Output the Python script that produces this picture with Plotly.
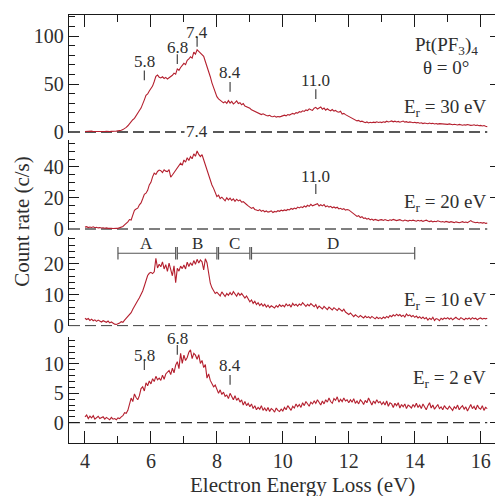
import numpy as np
import plotly.graph_objects as go

# ---------------- data ----------------
X_START = 4.0      # eV, first channel
X_STEP = 0.05      # eV, channel width

counts_30eV = [
    0.6, 0.8, 0.5, 0.7, 0.9, 0.6, 0.5, 0.7, 0.8, 0.6, 0.5, 0.7, 0.6, 0.8, 0.5, 0.6, 0.7, 0.5, 0.8, 0.9,
    1.0, 1.3, 1.8, 2.5, 3.4, 4.8, 6.5, 8.9, 10.5, 12.8, 14.2, 16.5, 19.8, 22.4, 24.9, 28.6, 33.5, 38.2, 39.6, 42.8,
    45.1, 47.8, 52.6, 57.9, 59.4, 57.1, 56.3, 57.5, 55.8, 56.9, 55.2, 56.4, 57.6, 59.1, 61.3, 60.2, 65.8, 64.3, 67.2, 69.8,
    71.5, 70.2, 74.6, 76.1, 78.4, 77.0, 83.2, 81.1, 85.6, 83.9, 82.4, 80.1, 78.8, 73.5, 68.9, 63.4, 57.6, 51.2, 46.3, 41.1,
    36.8, 34.5, 32.9, 31.2, 30.4, 31.6, 29.8, 32.7, 30.1, 31.9, 29.2, 30.6, 32.4, 29.7, 30.5, 28.4, 29.6, 27.1, 26.5, 25.2,
    24.7, 23.1, 22.4, 21.5, 20.8, 19.6, 19.4, 18.2, 18.9, 17.5, 17.1, 16.8, 17.4, 16.2, 15.9, 16.6, 15.5, 16.1, 15.8, 16.3,
    16.9, 17.5, 16.8, 18.2, 17.6, 18.9, 19.4, 18.6, 20.1, 19.7, 21.2, 20.6, 22.1, 21.4, 23.0, 22.3, 24.1, 23.2, 22.6, 24.8,
    25.7, 23.9, 24.6, 26.1, 23.8, 24.9, 22.7, 24.2, 23.0, 22.1, 23.4, 21.8, 22.5, 21.0, 20.6, 21.7, 18.8, 19.4, 18.1, 17.2,
    16.1, 15.2, 14.3, 13.1, 12.5, 11.6, 12.1, 10.8, 11.3, 10.2, 9.7, 10.5, 9.4, 10.1, 9.6, 10.3, 9.8, 10.6, 9.9, 10.4,
    9.8, 10.7, 10.1, 11.2, 10.4, 10.9, 11.5, 10.6, 11.3, 10.5, 11.0, 10.2, 10.8, 11.4, 10.3, 10.8, 9.9, 10.5, 10.1, 9.7,
    10.2, 9.5, 9.9, 9.2, 9.6, 8.8, 9.3, 9.0, 8.6, 9.4, 8.7, 9.1, 8.4, 8.9, 8.2, 8.7, 8.5, 8.1, 8.6, 8.3,
    8.0, 8.4, 7.8, 7.5, 8.1, 7.7, 7.3, 7.9, 7.4, 7.0, 7.6, 7.2, 7.8, 7.1, 6.9, 7.0, 7.5, 6.8, 7.2, 6.6,
    6.9, 6.3, 6.7, 5.9, 5.6,
]

counts_20eV = [
    1.2, 1.5, 0.9, 1.3, 1.0, 1.4, 0.8, 1.1, 0.7, 0.9, 0.6, 0.8, 0.5, 0.7, 0.4, 0.6, 0.5, 0.3, 0.6, 0.5,
    0.4, 0.7, 1.0, 1.6, 2.6, 3.5, 4.6, 6.1, 5.8, 8.9, 12.1, 12.9, 13.4, 15.6, 16.8, 19.5, 22.4, 23.1, 24.9, 28.4,
    30.1, 33.6, 36.0, 35.2, 37.1, 38.0, 37.6, 36.4, 38.2, 37.3, 37.0, 38.3, 33.5, 34.8, 36.5, 38.0, 39.1, 41.5, 42.4, 41.1,
    44.5, 43.1, 45.9, 44.2, 46.7, 45.3, 48.4, 46.9, 50.3, 48.1, 46.7, 47.9, 44.5, 41.2, 37.6, 33.8, 30.9, 28.4, 26.2, 23.5,
    20.9, 21.8, 19.6, 20.5, 19.4, 18.2, 20.1, 18.8, 19.9, 18.4, 19.4, 17.9, 19.2, 18.1, 18.7, 17.3, 17.6, 16.4, 15.8, 14.9,
    14.1, 13.3, 13.9, 12.6, 12.2, 11.8, 12.5, 11.4, 12.0, 11.1, 11.6, 10.9, 11.2, 11.7, 10.6, 11.3, 11.0, 11.8, 11.4, 12.1,
    11.7, 12.3, 11.9, 12.6, 12.3, 13.2, 12.7, 13.5, 13.0, 14.1, 13.6, 14.3, 13.8, 14.8, 14.2, 15.3, 14.6, 15.9, 14.9, 15.4,
    15.5, 16.3, 14.8, 15.6, 14.9, 15.7, 14.3, 14.9, 14.1, 14.6, 13.7, 14.2, 13.5, 14.0, 12.9, 13.3, 12.6, 13.1, 12.2, 12.5,
    12.3, 11.4, 10.6, 9.8, 9.2, 8.1, 8.6, 7.4, 7.9, 6.8, 7.1, 6.3, 6.8, 5.9, 6.4, 5.6, 6.2, 5.8, 5.4, 5.9,
    6.0, 5.5, 6.1, 5.7, 5.3, 5.9, 5.6, 6.2, 5.8, 5.4, 5.7, 6.0, 5.5, 5.2, 5.8, 5.4, 5.1, 5.6, 5.3, 5.7,
    5.4, 5.0, 5.6, 5.2, 5.5, 4.9, 5.3, 5.7, 5.1, 4.8, 5.2, 4.6, 5.0, 4.7, 5.3, 4.9, 4.5, 4.8, 4.4, 4.9,
    4.6, 4.3, 4.7, 4.5, 4.1, 4.6, 4.3, 4.0, 4.4, 4.7, 4.2, 4.5, 4.1, 4.6, 5.4, 4.7, 4.4, 4.0, 4.3, 3.9,
    4.2, 3.8, 4.1, 3.6, 3.8,
]

counts_10eV = [
    2.4, 2.0, 2.3, 1.7, 2.1, 1.6, 1.9, 1.4, 1.8, 1.5, 1.2, 1.6, 1.3, 1.1, 1.5, 0.9, 1.2, 0.8, 0.5, 0.4,
    0.6, 0.9, 1.3, 1.1, 1.8, 2.4, 2.9, 3.6, 4.2, 5.3, 6.1, 7.2, 8.1, 9.0, 9.9, 11.2, 12.8, 14.9, 16.2, 16.9,
    17.2, 16.8, 17.4, 21.7, 18.6, 19.8, 19.0, 20.6, 18.3, 19.7, 17.5, 20.2, 18.4, 16.1, 19.3, 13.9, 18.5, 17.6, 19.2, 18.4,
    19.6, 18.3, 20.5, 19.1, 20.3, 19.4, 21.0, 19.8, 21.4, 20.2, 21.2, 20.6, 18.0, 21.6, 20.3, 16.4, 13.7, 12.2, 11.4, 10.4,
    10.8, 10.2, 9.6, 10.9, 10.1, 9.4, 10.4, 9.8, 10.7, 9.9, 11.0, 10.3, 9.5, 10.6, 9.8, 10.4, 9.4, 8.9, 9.6, 8.5,
    7.7, 8.3, 7.2, 7.9, 6.8, 7.4, 6.5, 7.1, 6.3, 6.9, 6.0, 6.6, 5.8, 6.4, 6.1, 5.7, 6.5, 6.0, 6.8, 6.2,
    6.6, 6.1, 7.0, 6.4, 6.8, 6.0, 7.2, 6.5, 6.9, 6.3, 7.0, 6.6, 7.4, 6.7, 6.2, 6.9, 6.4, 7.1, 6.5, 6.1,
    6.8, 5.6, 6.3, 5.9, 5.4, 6.2, 5.7, 5.2, 6.0, 5.5, 5.1, 5.8, 5.3, 4.9, 5.6, 5.0, 4.7, 5.3, 4.4, 4.0,
    3.6, 4.1, 3.3, 2.9, 3.5, 3.0, 2.7, 3.3, 2.8, 2.5, 3.1, 2.6, 2.9, 2.4, 3.0, 2.5, 2.2, 2.8, 2.3, 2.6,
    2.2, 2.8, 2.4, 3.0, 2.6, 3.3, 2.9, 3.5, 3.1, 3.7, 3.2, 3.6, 3.0, 3.4, 2.8, 3.8, 3.2, 3.5, 2.9, 3.3,
    2.7, 3.1, 2.5, 2.9, 2.3, 2.8, 2.2, 2.6, 1.8, 2.4, 2.0, 2.7, 1.7, 2.3, 2.1, 1.6, 2.4, 2.0, 2.5, 2.2,
    2.6, 2.1, 2.5, 1.9, 2.3, 2.7, 2.2, 2.0, 2.6, 2.3, 1.9, 2.4, 2.1, 2.5, 2.0, 2.6, 2.2, 2.4, 1.9, 2.3,
    2.5, 2.1, 2.4, 2.2, 2.4,
]

counts_2eV = [
    1.0, 1.3, 0.7, 1.1, 0.8, 1.2, 0.6, 0.9, 1.1, 0.7, 0.8, 1.0, 0.6, 0.9, 0.7, 0.5, 0.9, 0.6, 0.7, 0.5,
    0.8, 0.7, 1.0, 1.2, 1.7, 1.6, 2.1, 3.3, 4.2, 3.6, 4.9, 4.3, 3.9, 4.6, 5.8, 6.1, 5.4, 6.8, 6.3, 7.1,
    6.6, 7.5, 7.0, 7.9, 7.3, 7.6, 7.2, 8.1, 7.4, 8.3, 8.6, 8.9, 8.2, 9.3, 8.5, 9.8, 10.4, 9.2, 11.8, 10.1,
    11.5, 10.6, 11.1, 12.0, 12.4, 10.9, 11.8, 11.5, 10.8, 11.6, 10.1, 10.6, 9.4, 9.9, 7.6, 8.3, 7.2, 6.5, 6.1, 6.4,
    5.5, 5.0, 5.6, 4.8, 5.2, 4.5, 4.7, 4.1, 5.0, 4.3, 3.9, 4.6, 3.8, 4.2, 3.5, 3.9, 3.0, 3.6, 2.9, 3.3,
    2.7, 3.2, 2.4, 2.9, 2.2, 2.6, 2.3, 2.9, 2.1, 2.5, 2.0, 2.6, 1.9, 2.4, 2.2, 1.8, 2.5, 2.1, 1.9, 2.3,
    2.0, 2.6, 2.2, 2.9, 2.4, 2.1, 2.8, 2.5, 3.2, 2.7, 3.1, 2.6, 3.4, 2.9, 3.6, 3.1, 2.8, 3.5, 3.2, 3.7,
    3.3, 3.9, 3.4, 3.0, 3.7, 3.2, 3.9, 3.5, 4.2, 3.6, 3.3, 4.1, 3.8, 4.4, 3.5, 4.0, 3.6, 4.2, 3.7, 3.9,
    3.4, 3.9, 3.5, 4.1, 3.3, 3.7, 3.2, 3.9, 3.6, 3.1, 3.8, 3.4, 4.2, 3.5, 3.0, 3.7, 3.3, 3.9, 3.4, 3.6,
    3.1, 3.5, 3.0, 3.7, 2.8, 3.4, 3.2, 2.6, 3.3, 2.9, 3.4, 2.5, 3.1, 2.7, 3.2, 2.4, 3.0, 2.8, 2.5, 3.1,
    2.7, 3.3, 2.6, 3.0, 2.4, 3.2, 2.8, 2.2, 2.9, 3.4, 2.5, 3.0, 2.3, 2.8, 3.1, 2.4, 2.7, 2.2, 2.9, 2.5,
    2.3, 2.8, 2.5, 2.1, 2.7, 2.4, 3.0, 2.2, 2.6, 2.9, 2.3, 2.7, 2.0, 2.5, 3.1, 2.4, 2.8, 2.2, 3.0, 2.5,
    2.3, 2.9, 2.1, 2.6, 2.4,
]

# peak markers (energy, tick level, label level)
peaks_30eV = ["5.8", "6.8", "7.4", "8.4", "11.0"]
peak_tick_30eV = [59.0, 76.0, 94.0, 47.0, 39.5]
peak_label_30eV = [73.0, 88.5, 104.0, 62.5, 54.0]

peaks_20eV = ["7.4", "11.0"]
peak_tick_20eV = [57.6, 25.8]
peak_label_20eV = [63.0, 33.7]

peaks_2eV = ["5.8", "6.8", "8.4"]
peak_tick_2eV = [9.8, 12.4, 7.3]
peak_label_2eV = [11.5, 14.4, 9.8]

# regions in the 10 eV panel
region_names = ["A", "B", "C", "D"]
region_start = [5.0, 6.8, 8.05, 9.05]
region_end = [6.75, 8.0, 9.0, 14.0]
region_level = 23.35
region_label_level = 26.4

# ---------------- styling ----------------
FONT = "Liberation Serif"
TXT = "#2e2e2e"
AX = "#1a1a1a"
RED = "#b41f2e"
X_RANGE = [3.515, 16.435]

panels = [
    dict(label="E<sub>r</sub> = 30 eV", lab_y=25.0, y=counts_30eV, yrange=[-1.04, 121.9],
         domain=[0.7243, 1.0], major=50, minor=list(range(10, 121, 10)), zc="#222222"),
    dict(label="E<sub>r</sub> = 20 eV", lab_y=17.0, y=counts_20eV, yrange=[-0.645, 57.4],
         domain=[0.4977, 0.708], major=20, minor=list(range(5, 56, 5)), zc="#555555"),
    dict(label="E<sub>r</sub> = 10 eV", lab_y=8.0, y=counts_10eV, yrange=[-0.26, 28.7],
         domain=[0.2722, 0.482], major=10, minor=list(range(2, 29, 2)), zc="#555555"),
    dict(label="E<sub>r</sub> = 2 eV", lab_y=7.4, y=counts_2eV, yrange=[-3.46, 14.65],
         domain=[0.0, 0.2484], major=5, minor=list(range(1, 15)), zc="#333333"),
]

xids = ["x2", "x3", "x4", "x"]
yids = ["y", "y2", "y3", "y4"]

fig = go.Figure()
layout = dict(
    width=495, height=496,
    margin=dict(l=69, r=0, t=15, b=53),
    paper_bgcolor="white", plot_bgcolor="white",
    showlegend=False,
    font=dict(family=FONT, color=TXT, size=20),
)

tick_common = dict(showgrid=False, zeroline=False, linecolor=AX, linewidth=1.3,
                   tickcolor=AX, tickwidth=1.3)

annotations = []


def dom_frac(val, rng):
    """position of a data value as a fraction of the subplot's domain"""
    return (val - rng[0]) / (rng[1] - rng[0])


for i, p in enumerate(panels):
    xid, yid = xids[i], yids[i]
    ykey = "yaxis" if yid == "y" else "yaxis" + yid[1:]
    ydata = np.array(p["y"], dtype=float)
    xdata = X_START + X_STEP * np.arange(len(ydata))

    # zero reference (dashed)
    fig.add_trace(go.Scatter(x=[X_RANGE[0], 16.2], y=[0, 0], mode="lines", xaxis=xid, yaxis=yid,
                             line=dict(color=p["zc"], width=1.3, dash="11px,5px"), hoverinfo="skip"))
    # spectrum
    fig.add_trace(go.Scatter(x=xdata, y=ydata, mode="lines", xaxis=xid, yaxis=yid,
                             line=dict(color=RED, width=1.1)))

    # y axis (left)
    layout[ykey] = dict(domain=p["domain"], range=p["yrange"], anchor=xid, showline=True,
                        ticks="inside", ticklen=10, tick0=0, dtick=p["major"],
                        tickfont=dict(family=FONT, size=20, color=TXT),
                        minor=dict(tickmode="array", tickvals=p["minor"], ticks="inside",
                                   ticklen=6, tickwidth=1.2, tickcolor=AX),
                        **tick_common)
    # right-side ticks
    rkey = "yaxis%d" % (i + 5)
    layout[rkey] = dict(overlaying=yid, side="right", anchor=xid, range=p["yrange"],
                        showline=False, ticks="inside", ticklen=5, tick0=0, dtick=p["major"],
                        showticklabels=False, showgrid=False, zeroline=False,
                        tickcolor=AX, tickwidth=1.3)
    fig.add_trace(go.Scatter(x=[None], y=[None], xaxis=xid, yaxis="y%d" % (i + 5),
                             mode="lines", hoverinfo="skip"))

    # E_r label
    annotations.append(dict(x=16.22, y=p["lab_y"], xref=xid, yref=yid, text=p["label"],
                            showarrow=False, xanchor="right", yanchor="middle",
                            font=dict(family=FONT, size=19, color=TXT)))

# x axes
xcommon = dict(range=X_RANGE, showline=True, ticks="inside", ticklen=12, tick0=0, dtick=2,
               minor=dict(dtick=1, tick0=0, ticks="inside", ticklen=7, tickwidth=1.3, tickcolor=AX),
               **tick_common)
layout["xaxis"] = dict(anchor="y4", side="bottom", showticklabels=True,
                       tickfont=dict(family=FONT, size=20, color=TXT), **xcommon)
layout["xaxis2"] = dict(anchor="y", side="top", showticklabels=False, matches="x", **xcommon)
layout["xaxis3"] = dict(anchor="y2", visible=False, matches="x", range=X_RANGE)
layout["xaxis4"] = dict(anchor="y3", visible=False, matches="x", range=X_RANGE)


def add_peaks(names, ticks, labels, xid, yid, rng, bg=None):
    xs = [float(n) for n in names]
    fig.add_trace(go.Scatter(x=xs, y=ticks, mode="markers", xaxis=xid, yaxis=yid, cliponaxis=False,
                             marker=dict(symbol="line-ns", size=7, line=dict(width=1.2, color="#444444")),
                             hoverinfo="skip"))
    for n, xv, ly in zip(names, xs, labels):
        a = dict(x=xv, y=dom_frac(ly, rng), xref=xid, yref=yid + " domain", text=n, showarrow=False,
                 xanchor="center", yanchor="middle", font=dict(family=FONT, size=17, color=TXT))
        if bg is not None and n in bg:
            a["bgcolor"] = "white"
        annotations.append(a)


add_peaks(peaks_30eV, peak_tick_30eV, peak_label_30eV, "x2", "y", panels[0]["yrange"])
add_peaks(peaks_20eV, peak_tick_20eV, peak_label_20eV, "x3", "y2", panels[1]["yrange"], bg=["7.4"])
add_peaks(peaks_2eV, peak_tick_2eV, peak_label_2eV, "x", "y4", panels[3]["yrange"])

# region brackets
for nm, s, e in zip(region_names, region_start, region_end):
    fig.add_trace(go.Scatter(x=[s, e], y=[region_level, region_level], mode="lines+markers",
                             xaxis="x4", yaxis="y3", cliponaxis=False,
                             line=dict(color="#555555", width=1.1),
                             marker=dict(symbol="line-ns", size=9, line=dict(width=1.2, color="#555555")),
                             hoverinfo="skip"))
    annotations.append(dict(x=(s + e) / 2, y=region_label_level, xref="x4", yref="y3", text=nm,
                            showarrow=False, xanchor="center", yanchor="middle",
                            font=dict(family=FONT, size=17, color=TXT)))

# molecule / angle labels
annotations.append(dict(x=14.96, y=90.0, xref="x2", yref="y", text="Pt(PF<sub>3</sub>)<sub>4</sub>",
                        showarrow=False, xanchor="center", yanchor="middle",
                        font=dict(family=FONT, size=19, color=TXT)))
annotations.append(dict(x=14.96, y=67.0, xref="x2", yref="y", text="θ = 0°",
                        showarrow=False, xanchor="center", yanchor="middle",
                        font=dict(family=FONT, size=19, color=TXT)))

# axis titles
annotations.append(dict(x=0.549, y=-0.097, xref="paper", yref="paper", text="Electron Energy Loss (eV)",
                        showarrow=False, xanchor="center", yanchor="middle",
                        font=dict(family=FONT, size=21, color=TXT)))
annotations.append(dict(x=-0.110, y=0.517, xref="paper", yref="paper", text="Count rate (c/s)",
                        textangle=-90, showarrow=False, xanchor="center", yanchor="middle",
                        font=dict(family=FONT, size=21, color=TXT)))

layout["annotations"] = annotations
fig.update_layout(**layout)
fig.write_html("out.html")
